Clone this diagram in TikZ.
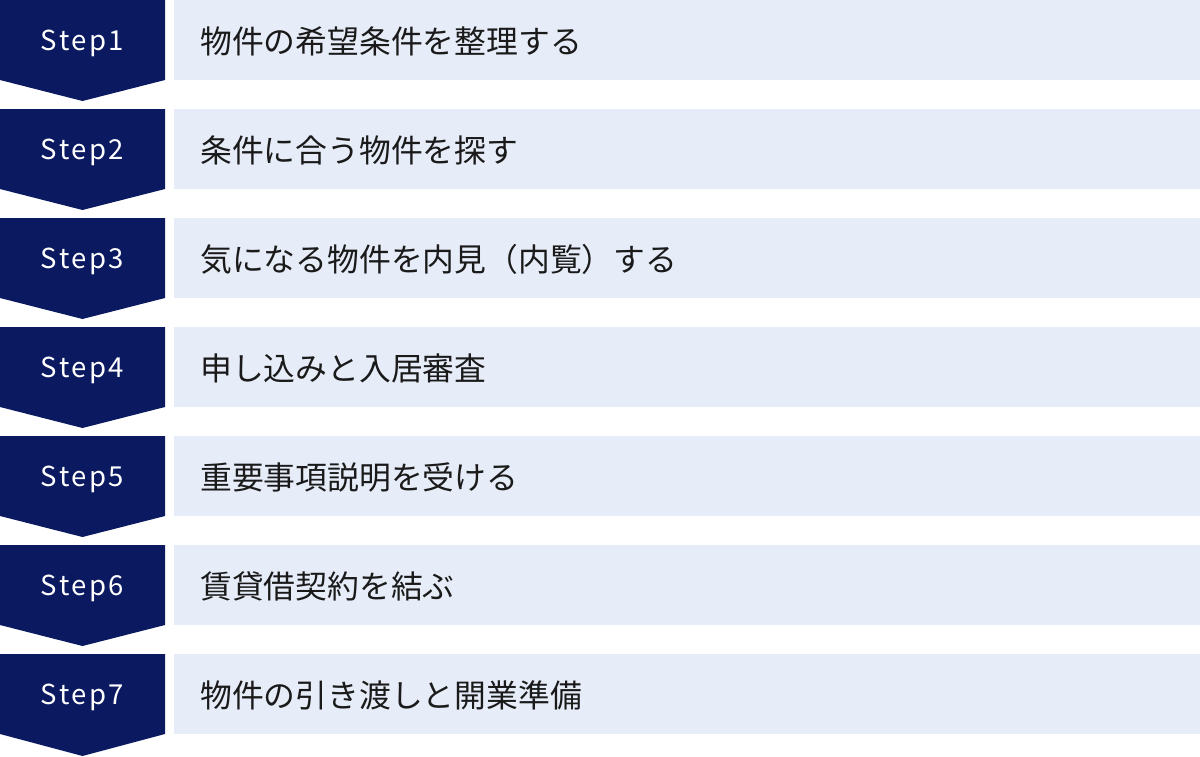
\documentclass[tikz,border=0pt]{standalone}
\usepackage{fontspec}
\usepackage{xcolor}
\usepackage{tikz}
\setmainfont{Noto Sans CJK JP}
\newfontfamily\stepfont[LetterSpace=9]{Noto Sans CJK JP}
\definecolor{stepnavy}{HTML}{0B1A60}
\definecolor{rowblue}{HTML}{E6ECF8}
\definecolor{rowtext}{HTML}{1A1A1A}

\begin{document}
\begin{tikzpicture}[x=1pt,y=1pt]
		\tikzset{steplabel/.style={anchor=base,text=white,font=\stepfont\fontsize{27.5}{32}\selectfont,inner sep=0pt},
			rowlabel/.style={anchor=west,text=rowtext,font=\fontsize{31.8}{36}\selectfont,inner sep=0pt}}
		\useasboundingbox (0,0) rectangle (1200,-756);
		% Step1
		\fill [stepnavy] (0,0) -- (165,0) -- (165,-80) -- (82.5,-101) -- (0,-80) -- cycle;
		\fill [rowblue] (174,0) rectangle (1200,-80);
		\node [steplabel] (s1) at (82.5,-50) {Step1};
		\node [rowlabel] (t1) at (200,-41) {物件の希望条件を整理する};
		% Step2
		\fill [stepnavy] (0,-109) -- (165,-109) -- (165,-189) -- (82.5,-210) -- (0,-189) -- cycle;
		\fill [rowblue] (174,-109) rectangle (1200,-189);
		\node [steplabel] (s2) at (82.5,-159) {Step2};
		\node [rowlabel] (t2) at (200,-150) {条件に合う物件を探す};
		% Step3
		\fill [stepnavy] (0,-218) -- (165,-218) -- (165,-298) -- (82.5,-319) -- (0,-298) -- cycle;
		\fill [rowblue] (174,-218) rectangle (1200,-298);
		\node [steplabel] (s3) at (82.5,-268) {Step3};
		\node [rowlabel] (t3) at (200,-259) {気になる物件を内見（内覧）する};
		% Step4
		\fill [stepnavy] (0,-327) -- (165,-327) -- (165,-407) -- (82.5,-428) -- (0,-407) -- cycle;
		\fill [rowblue] (174,-327) rectangle (1200,-407);
		\node [steplabel] (s4) at (82.5,-377) {Step4};
		\node [rowlabel] (t4) at (200,-368) {申し込みと入居審査};
		% Step5
		\fill [stepnavy] (0,-436) -- (165,-436) -- (165,-516) -- (82.5,-537) -- (0,-516) -- cycle;
		\fill [rowblue] (174,-436) rectangle (1200,-516);
		\node [steplabel] (s5) at (82.5,-486) {Step5};
		\node [rowlabel] (t5) at (200,-477) {重要事項説明を受ける};
		% Step6
		\fill [stepnavy] (0,-545) -- (165,-545) -- (165,-625) -- (82.5,-646) -- (0,-625) -- cycle;
		\fill [rowblue] (174,-545) rectangle (1200,-625);
		\node [steplabel] (s6) at (82.5,-595) {Step6};
		\node [rowlabel] (t6) at (200,-586) {賃貸借契約を結ぶ};
		% Step7
		\fill [stepnavy] (0,-654) -- (165,-654) -- (165,-734) -- (82.5,-756) -- (0,-734) -- cycle;
		\fill [rowblue] (174,-654) rectangle (1200,-734);
		\node [steplabel] (s7) at (82.5,-704) {Step7};
		\node [rowlabel] (t7) at (200,-695) {物件の引き渡しと開業準備};
	\end{tikzpicture}
\end{document}
